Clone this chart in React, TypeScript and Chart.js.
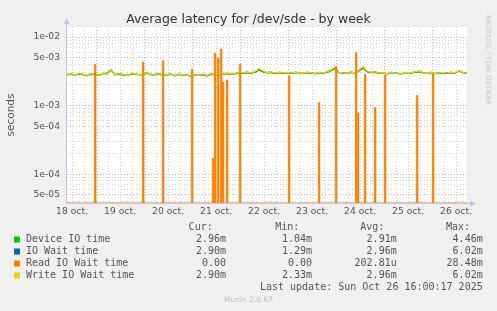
import React, { useEffect, useRef } from "react";
import { Chart, registerables } from "chart.js";
Chart.register(...registerables);

// ---- data ----
const TITLE = "Average latency for /dev/sde - by week";
const Y_TITLE = "seconds";
const HOURS_SPAN = 200; // 400 samples of 30 min
const STEP_HOURS = 2;
const dayLabels = ["18 oct.", "19 oct.", "20 oct.", "21 oct.", "22 oct.", "23 oct.", "24 oct.", "25 oct.", "26 oct."];
const noonHours = [2.5, 26.5, 50.5, 74.5, 98.5, 122.5, 146.5, 170.5, 194.5];
const midnightHours = [14.5, 38.5, 62.5, 86.5, 110.5, 134.5, 158.5, 182.5];
const Y_MIN = 3.81e-5;
const Y_MAX = 1.4e-2;

// milliseconds, every 2 hours
const deviceIoMs = [
  2.78, 2.85, 2.80, 2.88, 2.82, 2.74, 2.86, 2.84, 2.78, 2.90, 2.92,
  3.25,
  2.84, 2.86, 2.80, 2.76, 2.86, 2.90, 2.82, 2.84, 2.98, 2.80, 2.82, 2.88, 2.76, 2.80, 2.86, 2.74, 2.84, 2.80, 2.78,
  2.72, 2.78, 2.76, 2.82, 2.70, 2.86, 2.80, 2.78, 2.88, 2.92, 2.86, 2.90, 3.00,
  2.96, 3.02, 2.96, 3.06, 3.30, 3.12, 2.98, 3.04, 2.94, 3.02, 2.98, 3.00,
  2.96, 3.04, 3.00, 2.94, 3.02, 2.98, 2.92, 3.00, 2.98, 3.04,
  3.25, 3.45, 3.02, 2.98, 2.94, 3.05, 2.98, 3.22, 3.50, 3.12,
  3.02, 3.06, 2.96, 3.00, 2.90, 3.02, 2.98, 2.92, 2.94, 3.00,
  2.98, 3.06, 3.12, 3.00, 2.94, 3.02, 2.94, 2.98, 3.02, 2.96, 3.04, 2.98, 3.18, 3.02, 2.96,
];
const ioWaitMs = [
  2.84, 2.90, 2.80, 2.94, 2.86, 2.72, 2.92, 2.88, 2.76, 2.95, 2.96,
  3.38,
  2.82, 2.92, 2.84, 2.74, 2.90, 2.94, 2.82, 2.88, 3.04, 2.80, 2.86, 2.92, 2.76, 2.84, 2.90, 2.72, 2.88, 2.82, 2.78,
  2.70, 2.80, 2.76, 2.86, 2.74, 2.90, 2.84, 2.80, 2.92, 2.96, 2.88, 2.94, 3.04,
  3.00, 3.08, 2.98, 3.10, 3.42, 3.18, 3.02, 3.08, 2.96, 3.06, 3.00, 3.04,
  2.98, 3.06, 3.02, 2.96, 3.06, 3.00, 2.94, 3.04, 3.00, 3.08,
  3.34, 3.58, 3.05, 3.00, 2.96, 3.08, 3.00, 3.28, 3.66, 3.18,
  3.04, 3.10, 2.98, 3.04, 2.92, 3.06, 3.00, 2.92, 2.96, 3.04,
  3.00, 3.08, 3.18, 3.02, 2.96, 3.06, 2.94, 3.00, 3.04, 2.98, 3.06, 3.00, 3.22, 3.04, 2.96,
];
const writeWaitMs = [
  2.82, 2.90, 2.78, 2.95, 2.85, 2.70, 2.92, 2.88, 2.75, 2.96, 2.86,
  3.35,
  2.80, 2.92, 2.85, 2.72, 2.90, 2.95, 2.80, 2.88, 3.05, 2.78, 2.86, 2.92, 2.74, 2.84, 2.90, 2.70, 2.88, 2.82, 2.76,
  2.68, 2.80, 2.74, 2.86, 2.72, 2.90, 2.84, 2.78, 2.92, 2.96, 2.88, 2.94, 3.05,
  3.00, 3.08, 2.98, 3.12, 3.45, 3.20, 3.02, 3.10, 2.96, 3.06, 3.00, 3.04,
  2.98, 3.08, 3.02, 2.96, 3.06, 3.00, 2.94, 3.05, 3.00, 3.10,
  3.35, 3.60, 3.05, 3.00, 2.96, 3.10, 3.00, 3.30, 3.70, 3.20,
  3.05, 3.10, 2.98, 3.04, 2.92, 3.06, 3.00, 2.90, 2.96, 3.04,
  3.00, 3.10, 3.20, 3.02, 2.96, 3.06, 2.92, 3.00, 3.05, 2.98, 3.08, 3.00, 3.25, 3.05, 2.95,
];
// read wait is 0 except for short spikes
const readSpikeHours = [14, 38, 48, 62.5, 73, 74, 75.5, 77, 78, 80, 86.5, 111, 126, 134.5, 144.5, 145.5, 149, 154, 159, 175, 183];
const readSpikeMs = [4.0, 4.3, 4.5, 3.4, 0.17, 5.8, 4.9, 6.7, 2.2, 2.35, 4.0, 2.7, 1.1, 3.7, 5.9, 0.78, 2.85, 0.93, 2.8, 1.4, 2.9];

const seriesNames = ["Device IO time", "IO Wait time", "Read IO Wait time", "Write IO Wait time"];
const seriesColors = ["#00cc00", "#0066b3", "#ff8000", "#ffcc00"];
const curValues = ["2.96m", "2.90m", "0.00", "2.90m"];
const minValues = ["1.04m", "1.29m", "0.00", "2.33m"];
const avgValues = ["2.91m", "2.96m", "202.81u", "2.96m"];
const maxValues = ["4.46m", "6.02m", "28.48m", "6.02m"];
const LAST_UPDATE = "Last update: Sun Oct 26 16:00:17 2025";
const MUNIN = "Munin 2.0.67";
const WATERMARK = "RRDTOOL / TOBI OETIKER";

// ---- helpers ----
const toPoints = (arr: number[]) => arr.map((v, i) => ({ x: i * STEP_HOURS, y: v * 1e-3 }));
function readPoints() {
  const pts: { x: number; y: number }[] = [{ x: 0, y: Y_MIN }];
  readSpikeHours.forEach((h, i) => {
    const v = readSpikeMs[i] * 1e-3;
    pts.push({ x: h - 0.3, y: Y_MIN }, { x: h - 0.3, y: v }, { x: h + 0.3, y: v }, { x: h + 0.3, y: Y_MIN });
  });
  pts.push({ x: HOURS_SPAN, y: Y_MIN });
  return pts;
}
function mantExp(v: number) {
  const e = Math.floor(Math.log10(v) + 1e-9);
  const m = Math.round(v / Math.pow(10, e));
  return { m, e };
}
function fmtExp(v: number) {
  const { m, e } = mantExp(v);
  return `${m}e${e < 0 ? "-" : "+"}${String(Math.abs(e)).padStart(2, "0")}`;
}
const yTickValues: number[] = [];
for (let e = -5; e <= -2; e++) for (let m = 1; m <= 9; m++) {
  const v = m * Math.pow(10, e);
  if (v >= Y_MIN && v <= Y_MAX) yTickValues.push(v);
}
const xTickValues: number[] = [];
for (let h = noonHours[0]; h <= HOURS_SPAN; h += 6) xTickValues.push(h);

const MAJOR = "rgba(240,120,120,0.65)";
const MINOR = "rgba(160,160,160,0.45)";

const muninPlugin = {
  id: "munin",
  beforeDraw(chart: any) {
    const { ctx, chartArea: a, width, height } = chart;
    ctx.save();
    ctx.fillStyle = "#f0f0f0";
    ctx.fillRect(0, 0, width, height);
    ctx.fillStyle = "#ffffff";
    ctx.fillRect(a.left, a.top, a.right - a.left, a.bottom - a.top);
    ctx.restore();
  },
  beforeDatasetsDraw(chart: any) {
    const { ctx, chartArea: a } = chart;
    ctx.save();
    ctx.strokeStyle = "#c4c4ee";
    ctx.fillStyle = "#c4c4ee";
    ctx.lineWidth = 1;
    ctx.beginPath();
    ctx.moveTo(a.left - 0.5, a.bottom + 0.5);
    ctx.lineTo(a.left - 0.5, a.top - 4);
    ctx.moveTo(a.left - 0.5, a.bottom + 0.5);
    ctx.lineTo(a.right + 4, a.bottom + 0.5);
    ctx.stroke();
    ctx.beginPath();
    ctx.moveTo(a.left - 3.5, a.top - 3);
    ctx.lineTo(a.left + 2.5, a.top - 3);
    ctx.lineTo(a.left - 0.5, a.top - 9);
    ctx.closePath();
    ctx.fill();
    ctx.beginPath();
    ctx.moveTo(a.right + 3, a.bottom - 2.5);
    ctx.lineTo(a.right + 3, a.bottom + 3.5);
    ctx.lineTo(a.right + 9, a.bottom + 0.5);
    ctx.closePath();
    ctx.fill();
    ctx.restore();
  },
  afterDraw(chart: any) {
    const { ctx, chartArea: a, width } = chart;
    ctx.save();
    // title
    ctx.fillStyle = "#333";
    ctx.font = "12.5px 'DejaVu Sans'";
    ctx.textAlign = "center";
    ctx.textBaseline = "middle";
    ctx.fillText(TITLE, width / 2, 20);
    // y title
    ctx.save();
    ctx.translate(11, (a.top + a.bottom) / 2 + 0);
    ctx.rotate(-Math.PI / 2);
    ctx.fillStyle = "#555";
    ctx.font = "10.5px 'DejaVu Sans'";
    ctx.fillText(Y_TITLE, 0, 0);
    ctx.restore();
    // watermark
    ctx.save();
    ctx.translate(488, 15);
    ctx.rotate(Math.PI / 2);
    ctx.fillStyle = "#c8c8c8";
    ctx.font = "7px 'DejaVu Sans'";
    ctx.textAlign = "left";
    ctx.fillText(WATERMARK, 0, 0);
    ctx.restore();
    // legend
    ctx.font = "10px 'DejaVu Sans Mono'";
    ctx.fillStyle = "#555";
    ctx.textAlign = "right";
    const headY = 227;
    ctx.fillText("Cur:", 212.7, headY);
    ctx.fillText("Min:", 299.3, headY);
    ctx.fillText("Avg:", 384.3, headY);
    ctx.fillText("Max:", 470, headY);
    seriesNames.forEach((name, i) => {
      const y = 239.5 + i * 12;
      ctx.fillStyle = seriesColors[i];
      ctx.fillRect(14, y - 3, 6, 6);
      ctx.fillStyle = "#555";
      ctx.textAlign = "left";
      ctx.fillText(name, 26, y);
      ctx.textAlign = "right";
      ctx.fillText(curValues[i], 226, y);
      ctx.fillText(minValues[i], 312, y);
      ctx.fillText(avgValues[i], 396.7, y);
      ctx.fillText(maxValues[i], 482.7, y);
    });
    ctx.fillText(LAST_UPDATE, 482.7, 287.5);
    ctx.textAlign = "center";
    ctx.fillStyle = "#c0c0c0";
    ctx.font = "7.5px 'DejaVu Sans'";
    ctx.fillText(MUNIN, width / 2, 300);
    ctx.restore();
  },
};

export default function App() {
  const ref = useRef<HTMLCanvasElement | null>(null);
  useEffect(() => {
    document.body.style.margin = "0";
    const canvas = ref.current!;
    const line = (label: string, data: any[], color: string, order: number, w: number) => ({
      label,
      data,
      borderColor: color,
      backgroundColor: color,
      borderWidth: w,
      pointRadius: 0,
      tension: 0,
      fill: false,
      order,
    });
    const chart = new Chart(canvas, {
      type: "line",
      data: {
        datasets: [
          line(seriesNames[0], toPoints(deviceIoMs), seriesColors[0], 4, 1.4),
          line(seriesNames[1], toPoints(ioWaitMs), seriesColors[1], 3, 1.2),
          line(seriesNames[3], toPoints(writeWaitMs), seriesColors[3], 2, 1.4),
          line(seriesNames[2], readPoints(), seriesColors[2], 1, 1),
        ],
      },
      options: {
        animation: false,
        responsive: false,
        maintainAspectRatio: false,
        layout: { padding: { left: 0, right: 30, top: 27, bottom: 88 } },
        plugins: { legend: { display: false }, tooltip: { enabled: false }, title: { display: false } },
        scales: {
          x: {
            type: "linear",
            min: 0,
            max: HOURS_SPAN,
            afterBuildTicks: (s: any) => {
              s.ticks = xTickValues.map((v) => ({ value: v }));
            },
            afterFit: (s: any) => {
              s.height = 20;
            },
            ticks: {
              autoSkip: false,
              maxRotation: 0,
              padding: 3,
              color: "#555",
              font: { family: "DejaVu Sans", size: 9.2 },
              callback: (v: any) => {
                const i = noonHours.indexOf(Number(v));
                return i >= 0 ? dayLabels[i] : "";
              },
            },
            grid: {
              drawTicks: false,
              lineWidth: 1,
              color: (c: any) => (midnightHours.includes(c.tick?.value) ? MAJOR : MINOR),
            },
            border: { display: false, dash: [1, 2] },
          },
          y: {
            type: "logarithmic",
            min: Y_MIN,
            max: Y_MAX,
            afterBuildTicks: (s: any) => {
              s.ticks = yTickValues.map((v) => ({ value: v }));
            },
            afterFit: (s: any) => {
              s.width = 67;
            },
            ticks: {
              autoSkip: false,
              padding: 7,
              color: "#555",
              font: { family: "DejaVu Sans", size: 9.2 },
              callback: (v: any) => {
                const { m } = mantExp(Number(v));
                return m === 1 || m === 5 ? fmtExp(Number(v)) : "";
              },
            },
            grid: {
              drawTicks: false,
              lineWidth: 1,
              color: (c: any) => {
                const v = c.tick?.value;
                if (!v) return MINOR;
                const { m } = mantExp(v);
                return m === 1 || m === 5 ? MAJOR : MINOR;
              },
            },
            border: { display: false, dash: [1, 2] },
          },
        },
      },
      plugins: [muninPlugin],
    } as any);
    return () => chart.destroy();
  }, []);
  return (
    <div style={{ position: "fixed", left: 0, top: 0, width: 497, height: 311, background: "#f0f0f0" }}>
      <canvas ref={ref} width={497} height={311} style={{ display: "block", width: 497, height: 311 }} />
    </div>
  );
}
